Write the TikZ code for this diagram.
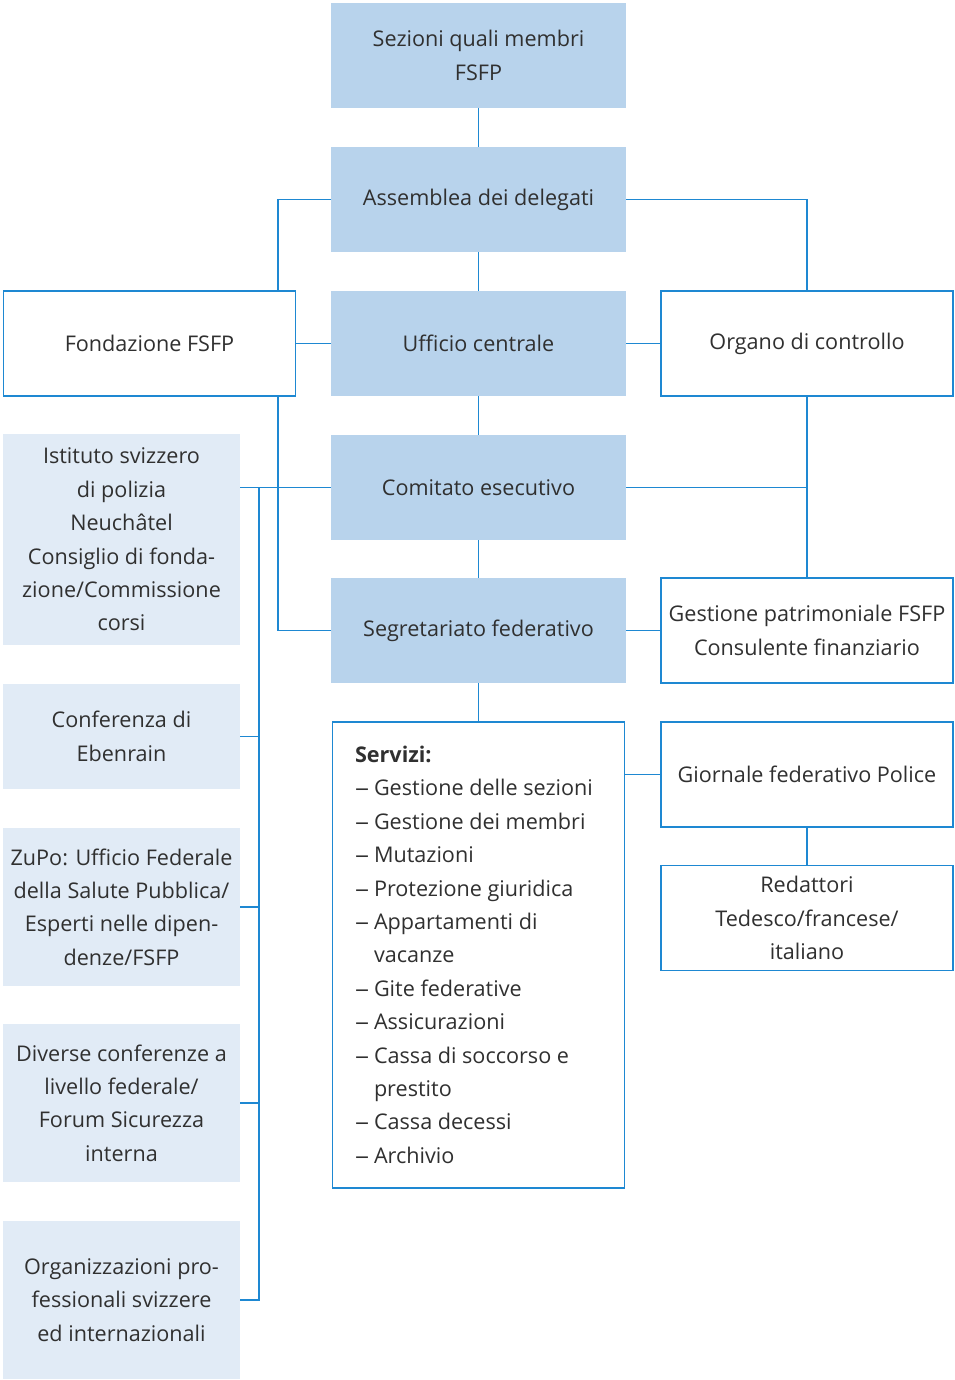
\documentclass[tikz,border=0pt]{standalone}
\usepackage{fontspec}
\setmainfont{Open Sans}
\usepackage{tikz}
\usetikzlibrary{positioning}
\definecolor{lineblue}{HTML}{1E88D2}
\definecolor{boxblue}{HTML}{B8D3EC}
\definecolor{paleblue}{HTML}{E1EBF6}
\definecolor{textgray}{HTML}{303030}
\newcommand{\voce}{\makebox[9.5pt][l]{\scalebox{1.3}[1]{–}}}
\newcommand{\segue}{\hspace*{9.5pt}}

\begin{document}
\begin{tikzpicture}[x=0.5pt, y=-0.5pt,
    every node/.style={font=\fontsize{10.8}{16.7}\selectfont, text=textgray, align=center, inner sep=0pt, outer sep=0pt},
    organ/.style={fill=boxblue, minimum width=147.5pt, minimum height=52.5pt},
    extern/.style={draw=lineblue, line width=0.9pt, fill=white, minimum width=146pt, minimum height=52.5pt},
    partner/.style={fill=paleblue, minimum width=118.5pt},
    link/.style={draw=lineblue, line width=0.9pt}]
    \useasboundingbox (0,0) rectangle (954,1380);

    % central column
    \node[organ] (sez) at (478.5,55.5) {Sezioni quali membri\\FSFP};
    \node[organ] (asm) at (478.5,199.5) {Assemblea dei delegati};
    \node[organ] (uff) at (478.5,343.5) {Ufficio centrale};
    \node[organ] (com) at (478.5,487.5) {Comitato esecutivo};
    \node[organ] (seg) at (478.5,630.5) {Segretariato federativo};
    \node[extern, minimum height=233pt] (srv) at (478.5,955) {};
    \node[anchor=north west, align=left] (srvlist) at (355,746) {\textbf{Servizi:}\\
        \voce Gestione delle sezioni\\
        \voce Gestione dei membri\\
        \voce Mutazioni\\
        \voce Protezione giuridica\\
        \voce Appartamenti di\\
        \segue vacanze\\
        \voce Gite federative\\
        \voce Assicurazioni\\
        \voce Cassa di soccorso e\\
        \segue prestito\\
        \voce Cassa decessi\\
        \voce Archivio};

    % side boxes
    \node[extern] (fond) at (149.5,343.5) {Fondazione FSFP};
    \node[extern] (ctrl) at (807,343.5) {Organo di controllo};
    \node[extern] (gest) at (807,630.5) {Gestione patrimoniale FSFP\\Consulente finanziario};
    \node[extern] (gior) at (807,774.5) {Giornale federativo Police};
    \node[extern] (red) at (807,918) {Redattori\\Tedesco/francese/\\italiano};

    % partners on the left
    \node[partner, minimum height=105.5pt] (ist) at (121.5,539.5) {Istituto svizzero\\di polizia\\Neuchâtel\\Consiglio di fonda-\\zione/Commissione\\corsi};
    \node[partner, minimum height=52.5pt] (conf) at (121.5,736.5) {Conferenza di\\Ebenrain};
    \node[partner, minimum height=79pt] (zupo) at (121.5,907) {ZuPo: Ufficio Federale\\della Salute Pubblica/\\Esperti nelle dipen-\\denze/FSFP};
    \node[partner, minimum height=79pt] (div) at (121.5,1103) {Diverse conferenze a\\livello federale/\\Forum Sicurezza\\interna};
    \node[partner, minimum height=79pt] (orgp) at (121.5,1300) {Organizzazioni pro-\\fessionali svizzere\\ed internazionali};

    \coordinate (fbus) at (278,0);
    \coordinate (pbus) at (259,0);

    % connectors
    \draw[link] (sez) -- (asm);
    \draw[link] (asm) -- (uff);
    \draw[link] (uff) -- (com);
    \draw[link] (com) -- (seg);
    \draw[link] (seg) -- (srv);
    \draw[link] (asm.west) -| (fond.north -| fbus);
    \draw[link] (fond.south -| fbus) |- (seg.west);
    \draw[link] (fond) -- (uff);
    \draw[link] (uff) -- (ctrl);
    \draw[link] (asm.east) -| (ctrl.north);
    \draw[link] (ctrl) -- (gest);
    \draw[link] (com.east) -- (com.east -| gest.north);
    \draw[link] (seg) -- (gest);
    \draw[link] (srv.east |- gior.west) -- (gior.west);
    \draw[link] (gior) -- (red);
    \draw[link] (com.west -| ist.east) -- (com.west);
    \draw[link] (com.west -| pbus) |- (orgp.east);
    \foreach \p in {conf,zupo,div}
        \draw[link] (\p.east) -- (\p.east -| pbus);
\end{tikzpicture}
\end{document}
